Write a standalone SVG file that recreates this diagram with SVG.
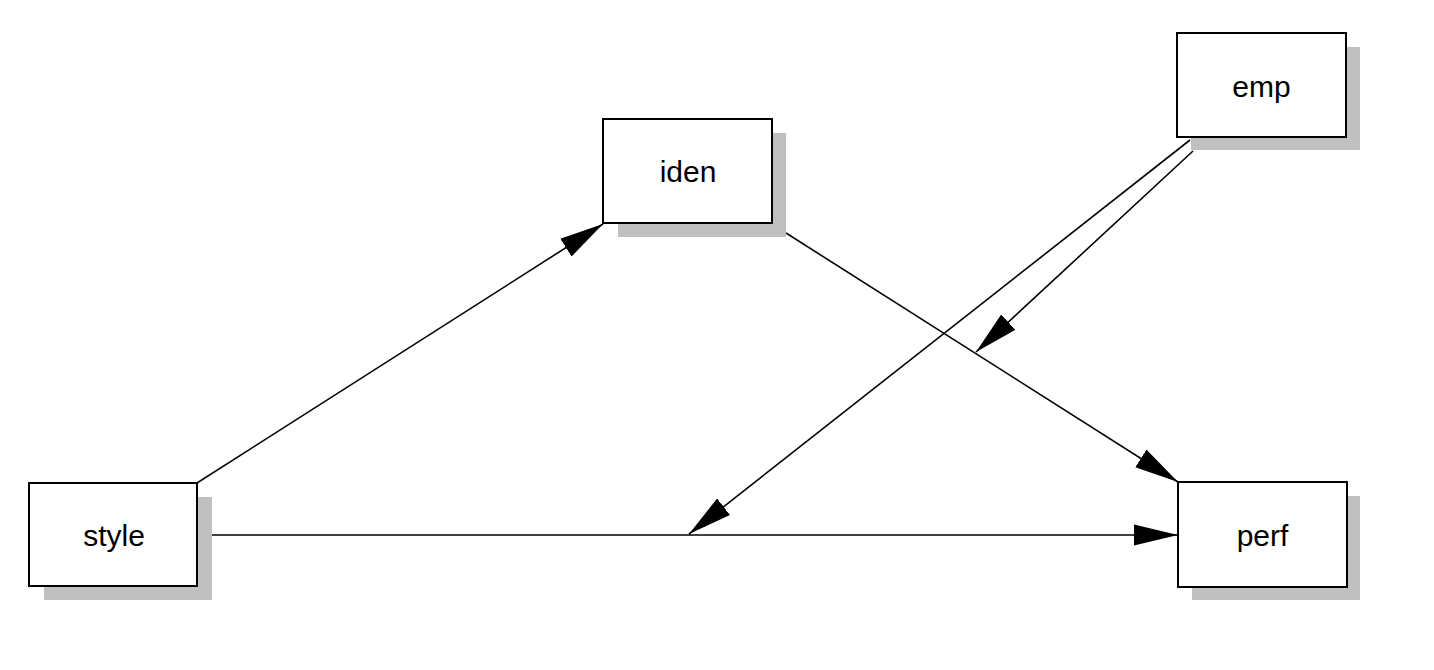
<svg xmlns="http://www.w3.org/2000/svg" width="1434" height="670" viewBox="0 0 1434 670">
<style>
.shadow{fill:#c0c0c0;stroke:none}
.box{fill:#fff;stroke:#000;stroke-width:2}
.lbl{font-family:"Liberation Sans",Arial,sans-serif;font-size:30px;fill:#000;text-anchor:middle}
.edge{stroke:#000;stroke-width:1.6;fill:none;marker-end:url(#ah)}
</style>
<defs>
<marker id="ah" markerUnits="userSpaceOnUse" markerWidth="44" markerHeight="22" viewBox="0 0 42 20" refX="42" refY="10" orient="auto">
<path d="M0,0 L42,10 L0,20 z" fill="#000"/>
</marker>
</defs>
<rect width="1434" height="670" fill="#fff"/>
<g id="connectors">
<line class="edge" x1="197" y1="483" x2="603" y2="224"/>
<line class="edge" x1="212" y1="535" x2="1178" y2="535"/>
<line class="edge" x1="786" y1="233" x2="1178" y2="482"/>
<line class="edge" x1="1190" y1="140" x2="689" y2="534"/>
<line class="edge" x1="1193" y1="151" x2="976" y2="352"/>
</g>
<g id="style">
<rect class="shadow" x="44" y="497" width="168" height="103"/>
<rect class="box" x="29" y="483" width="168" height="103"/>
<text class="lbl" x="114" y="546">style</text>
</g>
<g id="iden">
<rect class="shadow" x="618" y="133" width="168" height="104"/>
<rect class="box" x="603" y="119" width="169" height="104"/>
<text class="lbl" x="688" y="182">iden</text>
</g>
<g id="perf">
<rect class="shadow" x="1192" y="496" width="168" height="104"/>
<rect class="box" x="1178" y="482" width="169" height="105"/>
<text class="lbl" x="1262.5" y="546">perf</text>
</g>
<g id="emp">
<rect class="shadow" x="1191" y="47" width="169" height="103"/>
<rect class="box" x="1177" y="33" width="169" height="104"/>
<text class="lbl" x="1261.5" y="97">emp</text>
</g>
</svg>
